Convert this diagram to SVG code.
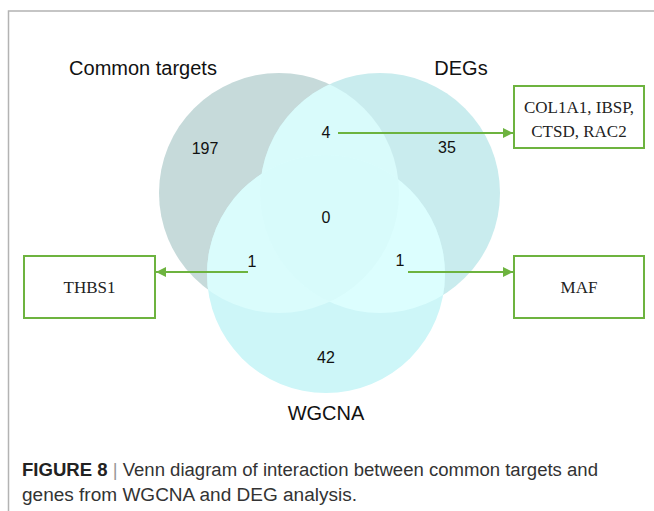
<svg xmlns="http://www.w3.org/2000/svg" width="654" height="511" viewBox="0 0 654 511">
<style>
.lbl{font-family:"Liberation Sans",Arial,sans-serif;font-size:20px;fill:#111;text-anchor:middle}
.num{font-family:"Liberation Sans",Arial,sans-serif;font-size:16px;fill:#111;text-anchor:middle}
.box{fill:#fff;stroke:#6db33f;stroke-width:2}
.btxt{font-family:"Liberation Serif","Times New Roman",serif;font-size:17px;fill:#222;text-anchor:middle}
.conn{stroke:#6db33f;stroke-width:2;fill:none}
.cap{font-family:"Liberation Sans",Arial,sans-serif;font-size:18px;fill:#333}
</style>
<defs>
<marker id="ah" viewBox="0 0 10 10" refX="10" refY="5" markerWidth="5" markerHeight="5" orient="auto" markerUnits="strokeWidth">
<path d="M0,0 L10,5 L0,10 z" fill="#6db33f"/>
</marker>
<clipPath id="cL"><circle cx="279" cy="193" r="120"/></clipPath>
<clipPath id="cR"><circle cx="380" cy="193" r="120"/></clipPath>
<clipPath id="cW"><circle cx="326" cy="274" r="119"/></clipPath>
</defs>
<rect width="654" height="511" fill="#fff"/>
<path d="M8.5,511 V11 H654" fill="none" stroke="#b3b3b3" stroke-width="1.5"/>
<g id="venn">
<circle id="set-common" cx="279" cy="193" r="120" fill="#c6dada"/>
<circle id="set-degs" cx="380" cy="193" r="120" fill="#c9ecee"/>
<circle id="set-wgcna" cx="326" cy="274" r="119" fill="#cdf6f8"/>
<circle cx="380" cy="193" r="120" fill="#d9fbfb" clip-path="url(#cL)"/>
<circle cx="326" cy="274" r="119" fill="#dafcfc" clip-path="url(#cL)"/>
<circle cx="326" cy="274" r="119" fill="#dcfefe" clip-path="url(#cR)"/>
<g clip-path="url(#cR)"><circle cx="326" cy="274" r="119" fill="#d8fbfb" clip-path="url(#cL)"/></g>
<text class="lbl" x="143" y="75">Common targets</text>
<text class="lbl" x="461" y="75">DEGs</text>
<text class="lbl" x="326" y="420">WGCNA</text>
<text class="num" x="205" y="154">197</text>
<text class="num" x="326" y="138">4</text>
<text class="num" x="447" y="153">35</text>
<text class="num" x="326" y="223">0</text>
<text class="num" x="252" y="267">1</text>
<text class="num" x="400" y="266">1</text>
<text class="num" x="326" y="363">42</text>
</g>
<g id="connectors">
<line class="conn" x1="338" y1="133" x2="513" y2="133" marker-end="url(#ah)"/>
<line class="conn" x1="248" y1="272" x2="156" y2="272" marker-end="url(#ah)"/>
<line class="conn" x1="408" y1="272" x2="513" y2="272" marker-end="url(#ah)"/>
</g>
<g id="node-col1a1">
<rect class="box" x="514" y="86" width="130" height="62"/>
<text class="btxt" x="579" y="113">COL1A1, IBSP,</text>
<text class="btxt" x="579" y="137">CTSD, RAC2</text>
</g>
<g id="node-thbs1">
<rect class="box" x="24" y="256" width="131" height="62"/>
<text class="btxt" x="89.5" y="293">THBS1</text>
</g>
<g id="node-maf">
<rect class="box" x="514" y="256" width="130" height="62"/>
<text class="btxt" x="579" y="293">MAF</text>
</g>
<g id="caption">
<text class="cap" x="22" y="476" textLength="576" lengthAdjust="spacingAndGlyphs"><tspan font-weight="bold" fill="#222">FIGURE 8</tspan><tspan fill="#999"> | </tspan><tspan>Venn diagram of interaction between common targets and</tspan></text>
<text class="cap" x="22" y="501" textLength="335" lengthAdjust="spacingAndGlyphs">genes from WGCNA and DEG analysis.</text>
</g>
</svg>
